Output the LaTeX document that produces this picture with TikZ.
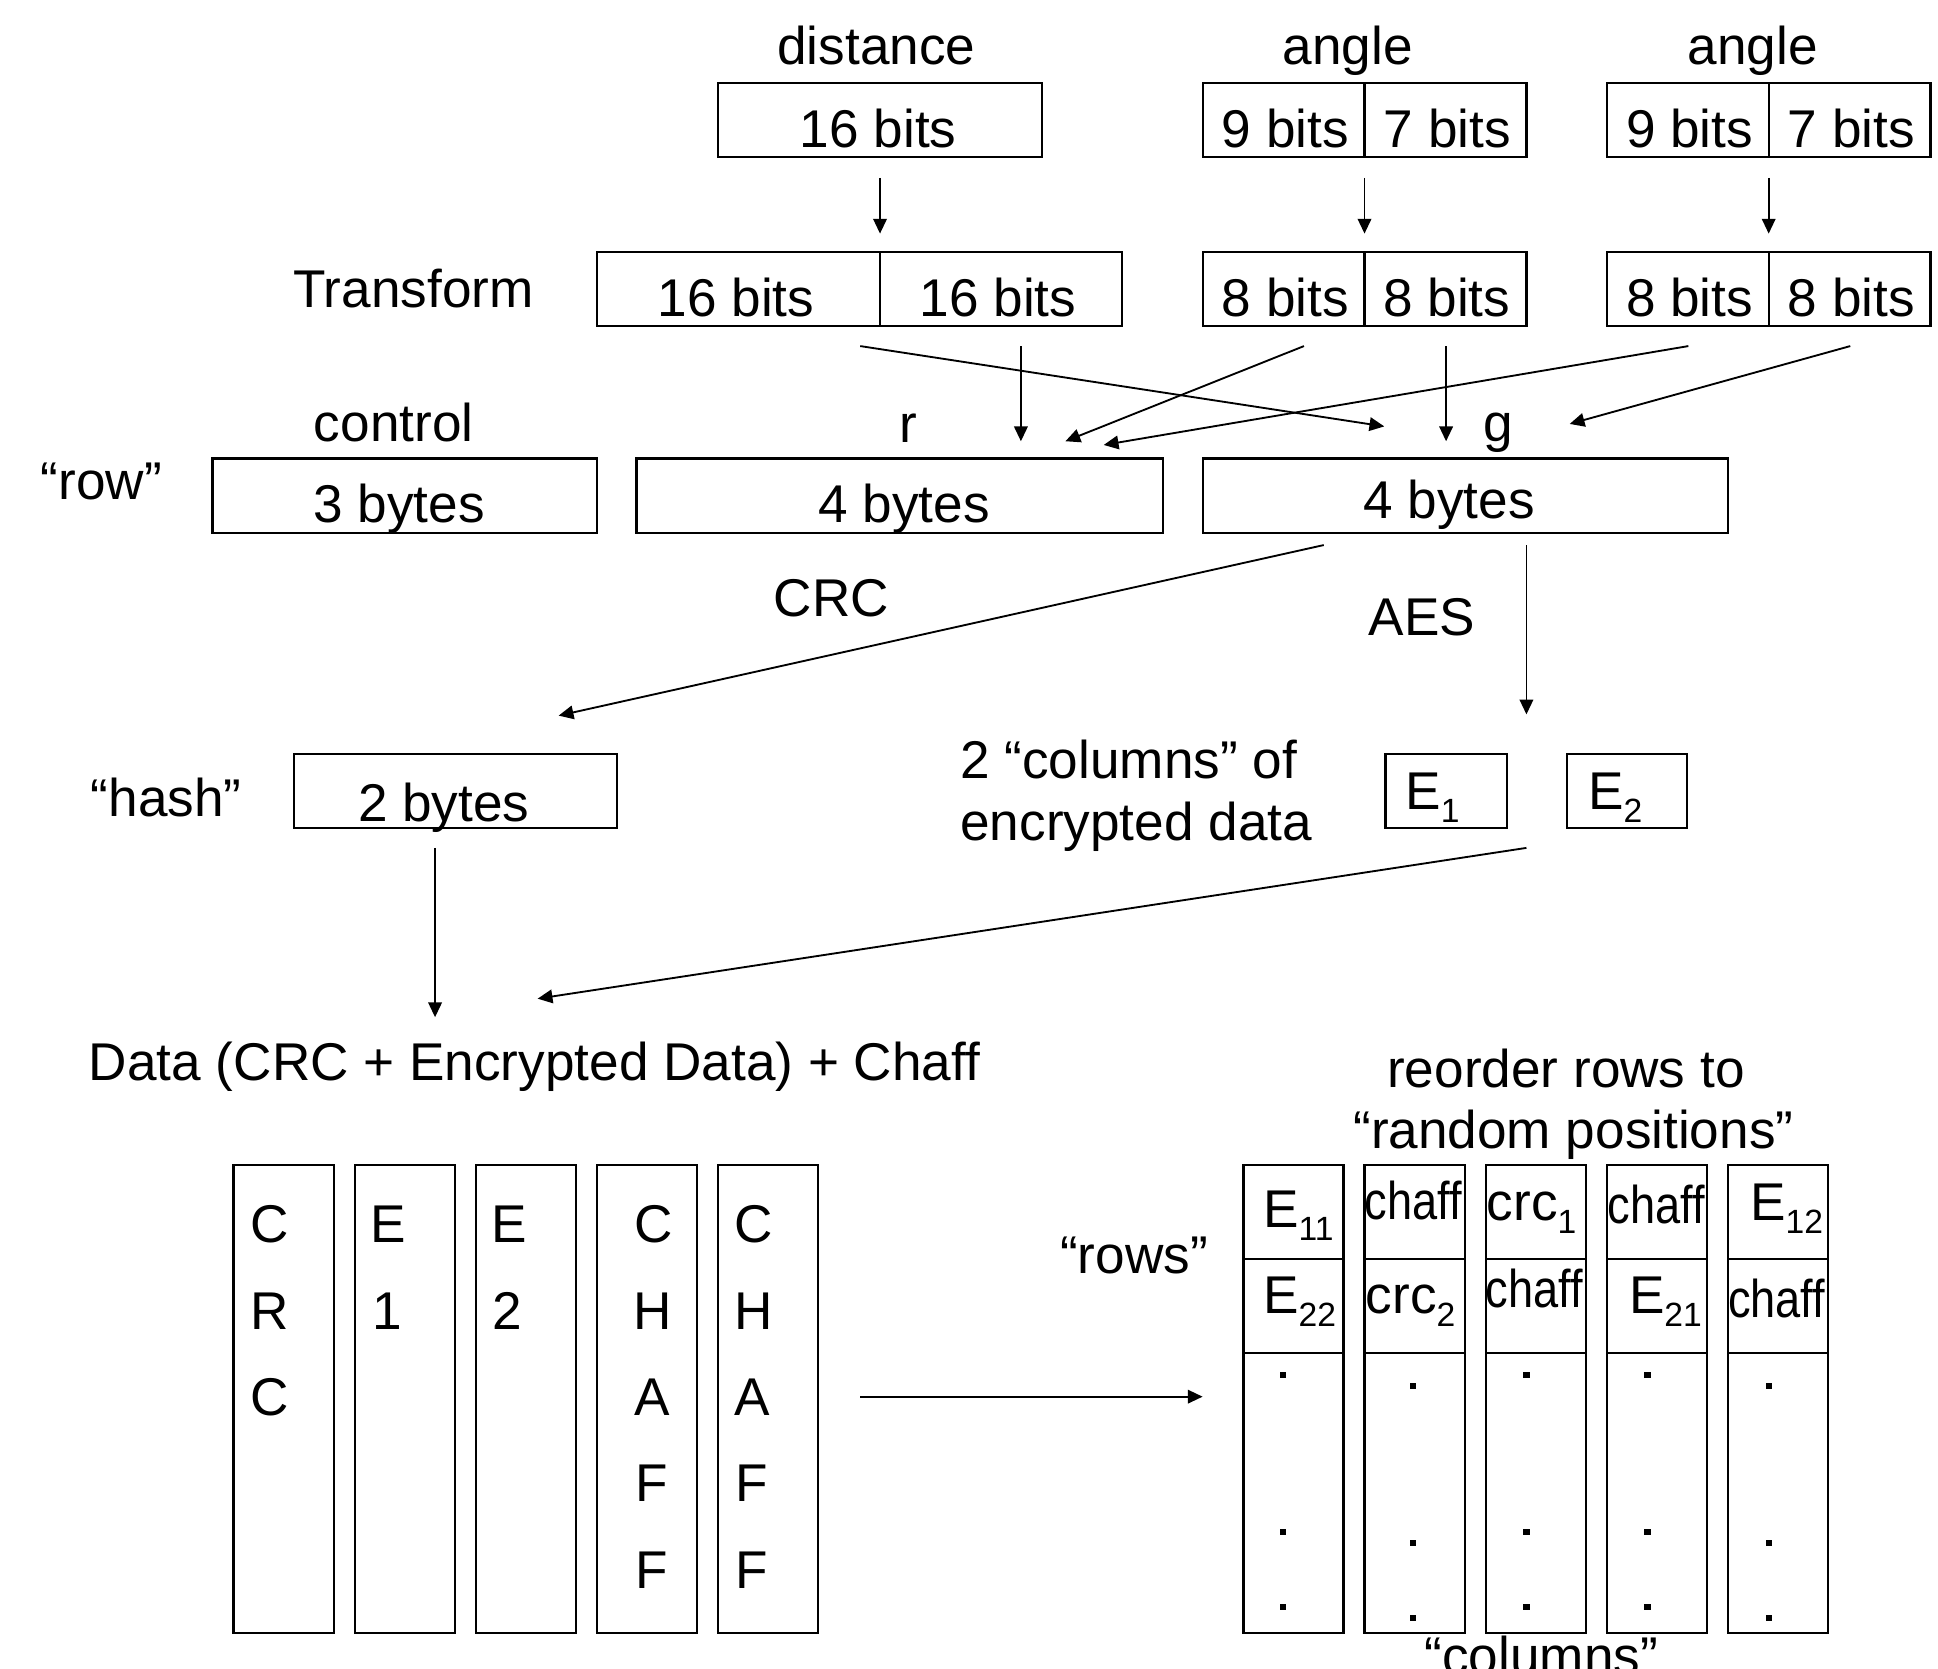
\documentclass[tikz,border=0pt]{standalone}
\usepackage{fontspec}
\setmainfont{Liberation Sans}
\usetikzlibrary{fit,arrows.meta}
\newcommand{\mysub}[1]{\raisebox{-5.3pt}{\fontsize{13.6pt}{14pt}\selectfont #1}}
\newcommand{\chf}{\scalebox{0.85}[1]{chaff}}
\tikzset{
  box/.style={draw, line width=0.9pt, inner sep=0pt, outer sep=0pt},
  lbl/.style={anchor=base, inner sep=0pt, outer sep=0pt, font=\fontsize{21.5pt}{26pt}\selectfont},
  lblw/.style={lbl, anchor=base west},
  arr/.style={line width=0.75pt, -{Triangle[length=6pt,width=5.5pt]}},
  dotsq/.style={fill, draw=none, inner sep=0pt, minimum size=2.5pt}
}
\begin{document}
\begin{tikzpicture}[x=0.5pt,y=-0.5pt]
\useasboundingbox (0,0) rectangle (1568,1350);

% ---------- top row ----------
\node[lbl] (tdist) at (709,52) {distance};
\node[lbl] (tang1) at (1090.5,52) {angle};
\node[lbl] (tang2) at (1418,52) {angle};

\node[box, fit={(581,67) (843,127)}] (dist) {};
\node[box, fit={(973,67) (1104,127)}] (ang1a) {};
\node[box, fit={(1104,67) (1235,127)}] (ang1b) {};
\node[box, fit={(1300,67) (1431,127)}] (ang2a) {};
\node[box, fit={(1431,67) (1562,127)}] (ang2b) {};
\node[lbl] (t16) at (710.5,119) {16 bits};
\node[lbl] (t9a) at (1040,119) {9 bits};
\node[lbl] (t7a) at (1171,119) {7 bits};
\node[lbl] (t9b) at (1367,119) {9 bits};
\node[lbl] (t7b) at (1498,119) {7 bits};

% ---------- transform row ----------
\node[lbl] (ttrans) at (334.5,249) {Transform};
\node[box, fit={(483,204) (712,264)}] (tr1a) {};
\node[box, fit={(712,204) (908,264)}] (tr1b) {};
\node[box, fit={(973,204) (1104,264)}] (tr2a) {};
\node[box, fit={(1104,204) (1235,264)}] (tr2b) {};
\node[box, fit={(1300,204) (1431,264)}] (tr3a) {};
\node[box, fit={(1431,204) (1562,264)}] (tr3b) {};
\node[lbl] (t16a) at (595.5,256) {16 bits};
\node[lbl] (t16b) at (807.5,256) {16 bits};
\node[lbl] (t8a) at (1040,256) {8 bits};
\node[lbl] (t8b) at (1170.5,256) {8 bits};
\node[lbl] (t8c) at (1367,256) {8 bits};
\node[lbl] (t8d) at (1498,256) {8 bits};

% vertical arrows top
\coordinate (a1s) at (712,144); \coordinate (a1e) at (712,189);
\coordinate (a2s) at (1104,144); \coordinate (a2e) at (1104,189);
\coordinate (a3s) at (1431,144); \coordinate (a3e) at (1431,189);
\draw[arr] (a1s) -- (a1e);
\draw[arr] (a2s) -- (a2e);
\draw[arr] (a3s) -- (a3e);

% ---------- row ----------
\node[lbl] (tctrl) at (318.5,357) {control};
\node[lbl] (tr) at (735,358) {r};
\node[lbl] (tg) at (1212,357) {g};
\node[lbl] (trow) at (82,404) {“row”};
\node[box, fit={(172,371) (483,431)}] (ctrl) {};
\node[box, fit={(515,371) (941,431)}] (rbox) {};
\node[box, fit={(973,371) (1398,431)}] (gbox) {};
\node[lbl] (t3b) at (323,423) {3 bytes};
\node[lbl] (t4a) at (731.5,423) {4 bytes};
\node[lbl] (t4b) at (1172.5,419.5) {4 bytes};

% crossing arrows
\coordinate (x1s) at (696,280);  \coordinate (x1e) at (1120,345);
\coordinate (x2s) at (826,280);  \coordinate (x2e) at (826,357);
\coordinate (x3s) at (1055,280); \coordinate (x3e) at (862,357);
\coordinate (x4s) at (1170,280); \coordinate (x4e) at (1170,357);
\coordinate (x5s) at (1366,280); \coordinate (x5e) at (893,360);
\coordinate (x6s) at (1497,280); \coordinate (x6e) at (1270,343);
\draw[arr] (x1s) -- (x1e);
\draw[arr] (x2s) -- (x2e);
\draw[arr] (x3s) -- (x3e);
\draw[arr] (x4s) -- (x4e);
\draw[arr] (x5s) -- (x5e);
\draw[arr] (x6s) -- (x6e);

% ---------- CRC / AES ----------
\coordinate (crcs) at (1071,441); \coordinate (crce) at (452,579);
\coordinate (aess) at (1235,441); \coordinate (aese) at (1235,578);
\draw[arr] (crcs) -- (crce);
\draw[arr] (aess) -- (aese);
\node[lbl] (tcrc) at (672.5,499) {CRC};
\node[lbl] (taes) at (1150.5,514.5) {AES};

\node[lbl] (thash) at (134.5,660.5) {“hash”};
\node[box, fit={(238,610) (499,670)}] (hash) {};
\node[lbl] (t2b) at (359,665) {2 bytes};

\node[lblw] (tcol1) at (777,629.5) {2 “columns” of};
\node[lblw] (tcol2) at (777,680) {encrypted data};
\node[box, fit={(1121,610) (1219,670)}] (e1) {};
\node[box, fit={(1268,610) (1365,670)}] (e2) {};
\node[lblw] (te1) at (1137,655) {E\mysub{1}};
\node[lblw] (te2) at (1285,655) {E\mysub{2}};

\coordinate (hs) at (352,686); \coordinate (he) at (352,823);
\coordinate (es) at (1235,686); \coordinate (ee) at (435,808);
\draw[arr] (hs) -- (he);
\draw[arr] (es) -- (ee);

% ---------- bottom ----------
\node[lblw] (tdata) at (72,874) {Data (CRC + Encrypted Data) + Chaff};
\node[lbl] (treo1) at (1267,880) {reorder rows to};
\node[lbl] (treo2) at (1273,929.5) {“random positions”};

% left columns
\node[box, fit={(189,942.5) (270,1321)}] (lc1) {};
\node[box, fit={(287,942.5) (368,1321)}] (lc2) {};
\node[box, fit={(385,942.5) (466,1321)}] (lc3) {};
\node[box, fit={(483,942.5) (564,1321)}] (lc4) {};
\node[box, fit={(581,942.5) (662,1321)}] (lc5) {};
\node[lbl] (l1a) at (218.5,1005) {C};
\node[lbl] (l1b) at (218.5,1075.5) {R};
\node[lbl] (l1c) at (218.5,1145) {C};
\node[lbl] (l2a) at (314.5,1005) {E};
\node[lbl] (l2b) at (313,1075.5) {1};
\node[lbl] (l3a) at (412,1005) {E};
\node[lbl] (l3b) at (410.5,1075.5) {2};
\node[lbl] (l4a) at (529,1005) {C};
\node[lbl] (l4b) at (528,1075.5) {H};
\node[lbl] (l4c) at (527.5,1145) {A};
\node[lbl] (l4d) at (527,1214.5) {F};
\node[lbl] (l4e) at (527,1285) {F};
\node[lbl] (l5a) at (610,1005) {C};
\node[lbl] (l5b) at (609.5,1075.5) {H};
\node[lbl] (l5c) at (609,1145) {A};
\node[lbl] (l5d) at (608.5,1214.5) {F};
\node[lbl] (l5e) at (608.5,1285) {F};

\coordinate (bs) at (696,1130); \coordinate (be) at (973,1130);
\draw[arr] (bs) -- (be);

\node[lbl] (trows) at (917.5,1030) {“rows”};

% right columns: cells
\foreach \nm/\xl in {A/1006, B/1104, C/1202, D/1300, E/1398}{
  \node[box, fit={(\xl,942.5) (\xl+81,1018.5)}] (r\nm1) {};
  \node[box, fit={(\xl,1018.5) (\xl+81,1094.5)}] (r\nm2) {};
  \node[box, fit={(\xl,1094.5) (\xl+81,1321)}] (r\nm3) {};
}
\node[lblw] (c11) at (1022,993) {E\mysub{11}};
\node[lbl]  (c12) at (1143.5,986.5) {\chf};
\node[lblw] (c13) at (1203,987.5) {crc\mysub{1}};
\node[lbl]  (c14) at (1340,990) {\chf};
\node[lblw] (c15) at (1416,987.5) {E\mysub{12}};
\node[lblw] (c21) at (1022,1062.5) {E\mysub{22}};
\node[lblw] (c22) at (1105,1062.5) {crc\mysub{2}};
\node[lbl]  (c23) at (1241.5,1058) {\chf};
\node[lblw] (c24) at (1318,1062.5) {E\mysub{21}};
\node[lbl]  (c25) at (1437.5,1066) {\chf};

% dots
\foreach \x/\o in {1038/0, 1143/9, 1235/0, 1333/0, 1431/9}{
  \node[dotsq] at (\x,1112.5+\o) {};
  \node[dotsq] at (\x,1239.5+\o) {};
  \node[dotsq] at (\x,1300+\o) {};
}

\node[lbl] (tcols) at (1247,1355) {“columns”};
\end{tikzpicture}
\end{document}
